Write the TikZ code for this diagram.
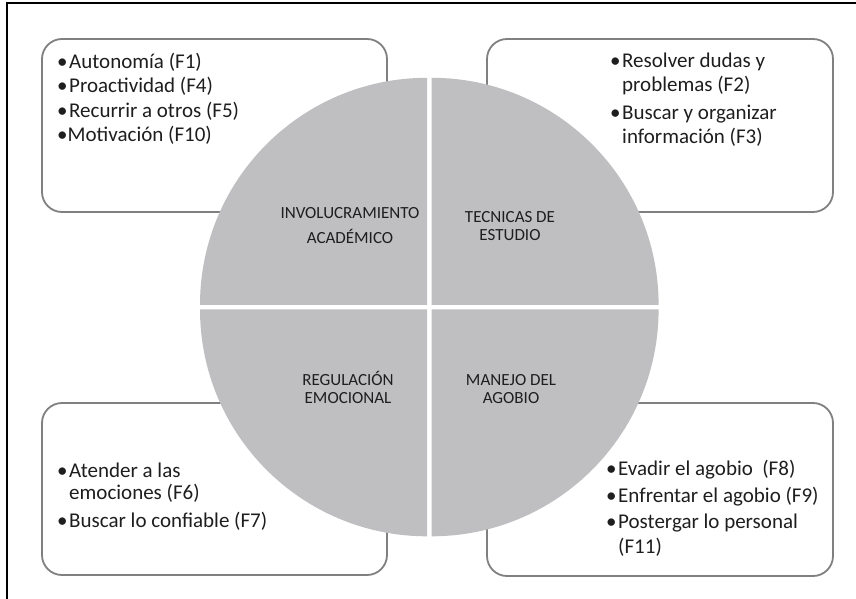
\documentclass[tikz,border=0pt]{standalone}
\usepackage{fontspec}
\setmainfont{Carlito}
\definecolor{quadgray}{RGB}{191,191,193}
\definecolor{boxgray}{RGB}{128,128,128}
\definecolor{inkgray}{RGB}{30,30,30}
\tikzset{
  listbox/.style={draw=boxgray, line width=1.8pt, rounded corners=20pt, inner sep=0pt},
  quadrant/.style={fill=quadgray},
  dimlabel/.style={align=center, anchor=base, inner sep=0pt, text=inkgray, font=\fontsize{17}{18}\selectfont},
  itemlist/.style={align=left, anchor=base west, inner sep=0pt, text=inkgray, font=\fontsize{21}{24}\selectfont},
}
\newcommand\itm{\makebox[12pt][l]{\textbullet}}
\newcommand\cont{\hspace*{12pt}}
\begin{document}
\begin{tikzpicture}[x=1pt, y=-1pt]
      \useasboundingbox (0,0) rectangle (856,599);
      %\draw [help lines, step=50] (0,0) grid (856,599);
      \draw[line width=1.3pt] (856,3) -- (7,3) -- (7,599);

      \node[listbox, minimum width=345pt, minimum height=173pt] (box-involucramiento) at (214.5,125.5) {};
      \node[listbox, minimum width=346pt, minimum height=173pt] (box-tecnicas) at (660,125.5) {};
      \node[listbox, minimum width=345pt, minimum height=172pt] (box-regulacion) at (214.5,489) {};
      \node[listbox, minimum width=346pt, minimum height=173pt] (box-manejo) at (660,489.5) {};

      \fill[quadrant] (427,304.8) -- ++(-227pt,0) arc[start angle=180, end angle=90, radius=227pt] -- cycle;
      \fill[quadrant] (431.6,304.8) -- ++(227pt,0) arc[start angle=0, end angle=90, radius=227pt] -- cycle;
      \fill[quadrant] (427,309.3) -- ++(-227pt,0) arc[start angle=180, end angle=270, radius=227pt] -- cycle;
      \fill[quadrant] (431.6,309.3) -- ++(227pt,0) arc[start angle=0, end angle=-90, radius=227pt] -- cycle;

      % base = last line
      \node[dimlabel] (involucramiento) at (350,243) {INVOLUCRAMIENTO\\[7pt]ACADÉMICO};
      \node[dimlabel] (tecnicas) at (510,240) {TECNICAS DE\\ESTUDIO};
      \node[dimlabel] (regulacion) at (348,403) {REGULACIÓN\\EMOCIONAL};
      \node[dimlabel] (manejo) at (511,403) {MANEJO DEL\\AGOBIO};

      \node[itemlist] (items-involucramiento) at (57,142) {\itm Autonomía (F1)\\[0.5pt]\itm Proactividad (F4)\\[0.5pt]\itm Recurrir a otros (F5)\\[0.5pt]\textbullet Motivación (F10)};
      \node[itemlist] (items-tecnicas) at (610,143) {\itm Resolver dudas y\\\cont problemas (F2)\\[4pt]\itm Buscar y organizar\\\cont información (F3)};
      \node[itemlist] (items-regulacion) at (57,527) {\itm Atender a las\\[-2pt]\cont emociones (F6)\\[4pt]\itm Buscar lo confiable (F7)};
      \node[itemlist] (items-manejo) at (606,553) {\itm Evadir el agobio\ \ (F8)\\[3pt]\itm Enfrentar el agobio (F9)\\[2pt]\itm Postergar lo personal\\[1pt]\cont (F11)};
    \end{tikzpicture}
\end{document}
